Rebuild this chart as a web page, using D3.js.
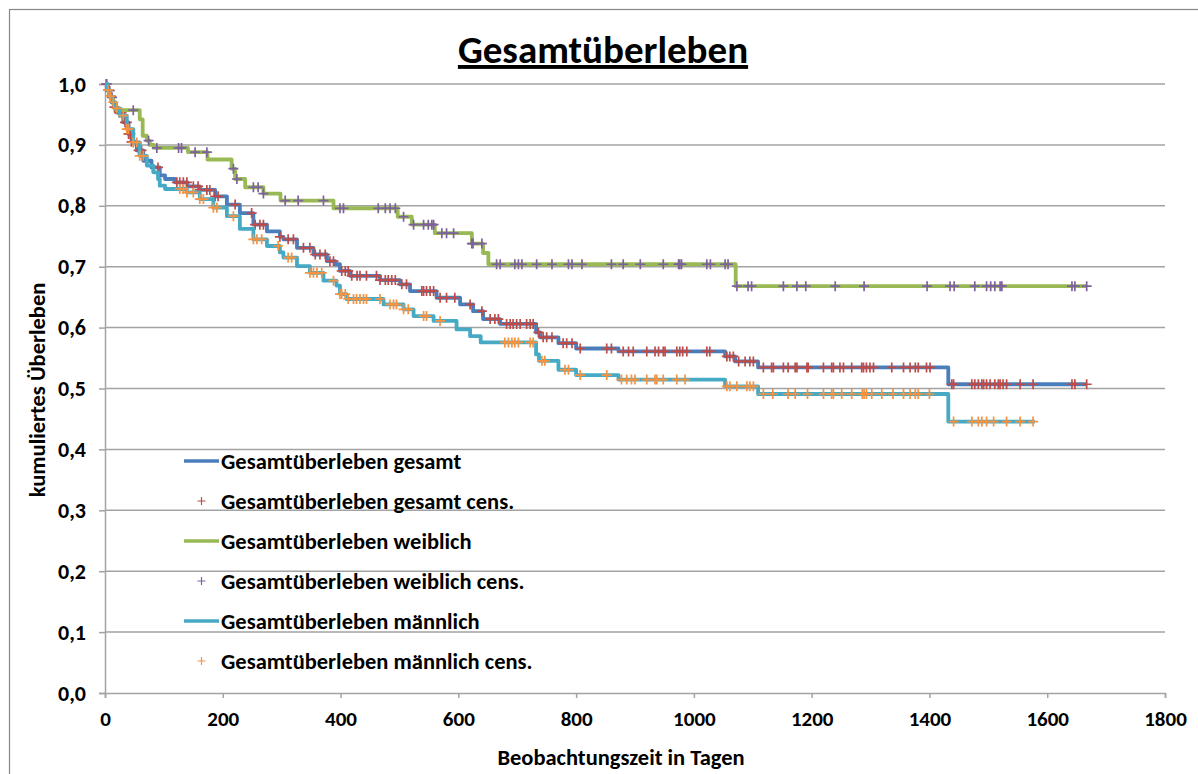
<!DOCTYPE html>
<html>
<head>
<meta charset="utf-8">
<script src="https://cdn.jsdelivr.net/npm/d3@7"></script>
<style>
    body { margin: 0; background: #fff; }
    svg text { font-family: Carlito, Calibri, Lato, sans-serif; font-weight: bold; fill: #000; }
</style>
</head>
<body>
<svg id="chart"></svg>
<script>
//chart size and plot area
var WIDTH = 1198, HEIGHT = 774;
var PLOT_LEFT = 105, PLOT_RIGHT = 1165, PLOT_TOP = 84, PLOT_BOTTOM = 693;
var GRID_COLOR = "#a3a3a3";

//axis ticks
var X_TICKS = [0, 200, 400, 600, 800, 1000, 1200, 1400, 1600, 1800];
var Y_TICKS = [0, 0.1, 0.2, 0.3, 0.4, 0.5, 0.6, 0.7, 0.8, 0.9, 1.0];

//kaplan-meier steps [day, cumulative survival]
var gesamt = [[0,1.0],[3,0.99],[7,0.98],[11,0.97],[15,0.962],[20,0.953],[31,0.937],[40,0.918],[45,0.905],
    [54,0.891],[65,0.874],[79,0.863],[93,0.85],[102,0.844],[119,0.8385],[140,0.832],[161,0.826],[187,0.8156],
    [207,0.802],[229,0.788],[252,0.769],[275,0.758],[297,0.749],[303,0.745],[326,0.731],[354,0.72],[377,0.709],
    [391,0.704],[399,0.693],[416,0.685],[467,0.678],[501,0.671],[518,0.66],[563,0.649],[603,0.638],[625,0.627],
    [642,0.614],[671,0.606],[732,0.592],[739,0.584],[770,0.5745],[800,0.5657],[872,0.5608],[1053,0.5526],
    [1070,0.5444],[1109,0.5346],[1432,0.507],[1667,0.507]];
var weiblich = [[0,1.0],[4,0.989],[9,0.978],[14,0.968],[19,0.957],[59,0.942],[64,0.915],[71,0.907],[76,0.9],
    [83,0.895],[141,0.888],[174,0.876],[215,0.861],[221,0.844],[238,0.8305],[269,0.82],[298,0.8085],[388,0.796],
    [497,0.782],[521,0.769],[560,0.755],[623,0.738],[642,0.7225],[651,0.704],[1071,0.668],[1667,0.668]];
var maennlich = [[0,1.0],[4,0.99],[8,0.98],[12,0.97],[17,0.96],[25,0.948],[37,0.926],[48,0.904],[59,0.882],
    [71,0.866],[82,0.855],[90,0.844],[93,0.833],[102,0.8276],[139,0.822],[161,0.811],[184,0.797],[207,0.783],
    [229,0.762],[252,0.745],[275,0.734],[297,0.7235],[303,0.715],[326,0.701],[348,0.69],[371,0.677],[393,0.669],
    [399,0.655],[410,0.647],[473,0.638],[507,0.63],[524,0.619],[558,0.611],[597,0.597],[620,0.586],[638,0.5756],
    [732,0.556],[737,0.5455],[770,0.5308],[800,0.522],[872,0.5146],[1053,0.5036],[1109,0.491],[1432,0.4457],
    [1579,0.4457]];

//censored observations (days)
var gesamtCens = [2,6,10,16,24,28,34,37,40,43,45,57,62,90,122,127,133,139,150,158,161,173,178,187,192,221,249,
    255,263,269,297,311,320,337,348,357,365,374,382,388,402,408,413,419,428,433,444,461,467,476,481,487,493,504,
    512,538,541,546,552,558,569,580,594,620,640,654,662,668,682,688,693,699,705,716,722,727,736,744,750,759,778,
    784,793,807,852,860,880,889,897,920,934,940,948,951,971,976,981,988,1022,1027,1056,1061,1067,1076,1087,1095,
    1101,1118,1132,1135,1152,1160,1172,1175,1192,1194,1220,1234,1237,1248,1254,1268,1285,1288,1293,1299,1305,
    1336,1356,1367,1376,1381,1395,1401,1438,1441,1472,1477,1483,1489,1492,1497,1503,1511,1517,1520,1525,1531,
    1554,1576,1642,1647,1667];
var weiblichCens = [3,8,12,48,74,88,125,130,153,173,218,224,252,260,269,306,328,371,399,405,464,476,484,493,507,
    524,541,549,555,558,572,580,592,623,625,640,665,671,696,702,708,733,759,787,793,810,860,880,909,948,974,976,
    979,1022,1028,1053,1058,1073,1092,1098,1152,1175,1190,1240,1289,1396,1435,1442,1477,1497,1504,1511,1520,
    1523,1642,1647,1667];
var maennlichCens = [5,9,14,20,31,37,40,48,54,59,65,127,133,139,150,161,167,184,190,218,252,258,266,294,311,317,
    348,354,360,368,388,399,402,408,413,422,427,433,439,444,467,484,490,495,507,515,541,546,569,679,685,691,696,
    702,722,727,742,747,781,787,807,852,877,886,894,900,920,934,937,948,971,985,1056,1061,1073,1090,1095,1101,
    1118,1134,1160,1172,1193,1220,1234,1237,1251,1268,1286,1289,1293,1302,1319,1338,1356,1367,1376,1381,1400,
    1441,1472,1483,1489,1497,1509,1531,1554,1576];

//series in drawing order
var SERIES = [
    { name: "Gesamtüberleben gesamt", steps: gesamt, cens: gesamtCens, line: "#4a7ebb", mark: "#be4b48" },
    { name: "Gesamtüberleben weiblich", steps: weiblich, cens: weiblichCens, line: "#98b954", mark: "#7d60a0" },
    { name: "Gesamtüberleben männlich", steps: maennlich, cens: maennlichCens, line: "#46aac5", mark: "#f69240" }
];

var x = d3.scaleLinear().domain([0, 1800]).range([PLOT_LEFT, PLOT_RIGHT]);
var y = d3.scaleLinear().domain([0, 1]).range([PLOT_BOTTOM, PLOT_TOP]);

//survival value at a given day
function survAt(steps, day) {
    var v = steps[0][1];
    steps.forEach(function (p) { if (p[0] <= day) v = p[1]; });
    return v;
}

function comma(d) { return d.toFixed(1).replace(".", ","); }

var svg = d3.select("#chart")
    .attr("width", WIDTH)
    .attr("height", HEIGHT);

//outer chart frame
svg.append("rect")
    .attr("x", 9.5)
    .attr("y", 9.5)
    .attr("width", WIDTH + 20)
    .attr("height", HEIGHT + 20)
    .style("fill", "#fff")
    .style("stroke", "#878787")
    .style("stroke-width", 1.2);

//title
svg.append("text")
    .attr("x", 603)
    .attr("y", 63)
    .style("text-anchor", "middle")
    .style("font-size", "39px")
    .style("text-decoration", "underline")
    .text("Gesamtüberleben");

//horizontal gridlines
svg.append("g")
    .selectAll("line")
    .data(Y_TICKS.filter(function (d) { return d > 0; }))
    .join("line")
    .attr("x1", PLOT_LEFT)
    .attr("x2", PLOT_RIGHT)
    .attr("y1", function (d) { return y(d); })
    .attr("y2", function (d) { return y(d); })
    .style("stroke", GRID_COLOR)
    .style("stroke-width", 1.5);

//y axis
var yAxis = svg.append("g")
    .attr("transform", "translate(" + PLOT_LEFT + ",0)")
    .call(d3.axisLeft(y).tickValues(Y_TICKS).tickFormat(comma).tickSize(6).tickPadding(13));
//x axis
var xAxis = svg.append("g")
    .attr("transform", "translate(0," + PLOT_BOTTOM + ")")
    .call(d3.axisBottom(x).tickValues(X_TICKS).tickFormat(d3.format("d")).tickSize(5).tickPadding(13));
[yAxis, xAxis].forEach(function (a) {
    a.select(".domain").style("stroke", GRID_COLOR).style("stroke-width", 1.5);
    a.selectAll(".tick line").style("stroke", GRID_COLOR).style("stroke-width", 1.5);
    a.selectAll("text")
        .style("font-family", "Carlito, Calibri, Lato, sans-serif")
        .style("font-weight", "bold")
        .style("font-size", a === yAxis ? "22px" : "21px")
        .style("fill", "#000");
});

//axis titles
svg.append("text")
    .attr("transform", "translate(37,390) rotate(-90)")
    .attr("dy", ".35em")
    .style("text-anchor", "middle")
    .style("font-size", "22.5px")
    .text("kumuliertes Überleben");
svg.append("text")
    .attr("x", 621)
    .attr("y", 757)
    .attr("dy", ".35em")
    .style("text-anchor", "middle")
    .style("font-size", "22.5px")
    .text("Beobachtungszeit in Tagen");

//cross marker path
function cross(cx, cy, r) {
    return "M" + (cx - r) + "," + cy + "H" + (cx + r) + "M" + cx + "," + (cy - r) + "V" + (cy + r);
}

var stepLine = d3.line()
    .x(function (d) { return x(d[0]); })
    .y(function (d) { return y(d[1]); })
    .curve(d3.curveStepAfter);

//draw curves and censor marks
SERIES.forEach(function (s) {
    svg.append("path")
        .attr("d", stepLine(s.steps))
        .style("fill", "none")
        .style("stroke", s.line)
        .style("stroke-width", 3.8)
        .style("stroke-linejoin", "round");
    svg.append("g")
        .selectAll("path")
        .data(s.cens)
        .join("path")
        .attr("d", function (d) { return cross(x(d), y(survAt(s.steps, d)), 5); })
        .style("stroke", s.mark)
        .style("stroke-width", 1.7);
});

//legend
var legend = svg.append("g");
var legendRows = [];
SERIES.forEach(function (s) {
    legendRows.push({ label: s.name, color: s.line, type: "line" });
    legendRows.push({ label: s.name + " cens.", color: s.mark, type: "mark" });
});
legendRows.forEach(function (r, i) {
    var ly = 461 + i * 40;
    if (r.type === "line") {
        legend.append("line")
            .attr("x1", 184)
            .attr("x2", 219)
            .attr("y1", ly)
            .attr("y2", ly)
            .style("stroke", r.color)
            .style("stroke-width", 3.5);
    } else {
        legend.append("path")
            .attr("d", cross(201.5, ly, 4))
            .style("stroke", r.color)
            .style("stroke-width", 1.2);
    }
    legend.append("text")
        .attr("x", 221)
        .attr("y", ly)
        .attr("dy", ".35em")
        .style("font-size", "22.5px")
        .text(r.label);
});
</script>
</body>
</html>
